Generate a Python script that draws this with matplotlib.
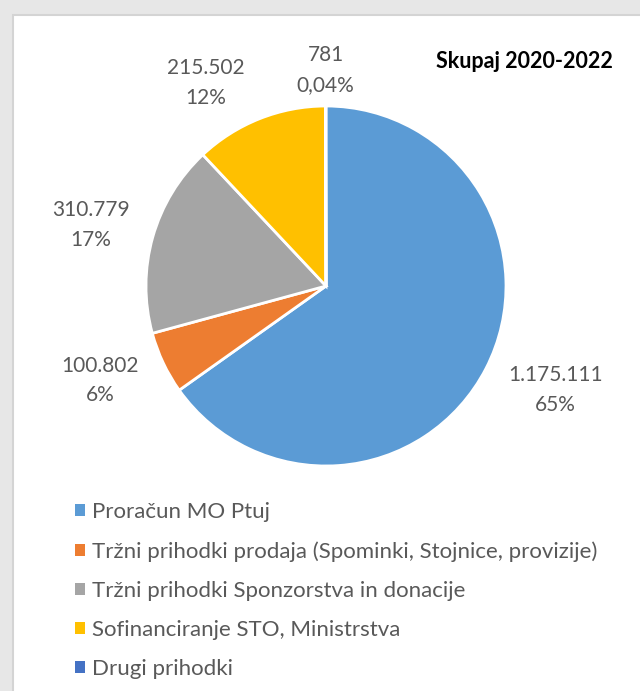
import matplotlib
matplotlib.use("Agg")
import matplotlib.pyplot as plt
from matplotlib.patches import Rectangle
import numpy as np

# ---- Data ----
categories = [
    "Proračun MO Ptuj",
    "Tržni prihodki prodaja (Spominki, Stojnice, provizije)",
    "Tržni prihodki Sponzorstva in donacije",
    "Sofinanciranje STO, Ministrstva",
    "Drugi prihodki",
]
values = [1175111, 100802, 310779, 215502, 781]
pct_labels = ["65%", "6%", "17%", "12%", "0,04%"]
colors = ["#5B9BD5", "#ED7D31", "#A5A5A5", "#FFC000", "#4472C4"]

# label placement (radius multiple, angle shift in degrees)
label_dist = [1.40, 1.36, 1.35, 1.31, 1.20]
label_shift = [3.0, -2.6, 1.3, 9.0, 0.0]

plt.rcParams["font.family"] = ["Lato", "DejaVu Sans"]

W, H = 640, 691
fig = plt.figure(figsize=(W / 100, H / 100), dpi=100)
fig.patch.set_facecolor("#E7E7E7")

# white chart panel
panel = Rectangle((13 / W, -0.05), 1.1, 1 - 15 / H + 0.05,
                  transform=fig.transFigure, facecolor="white",
                  edgecolor="#D4D4D4", linewidth=1.5, zorder=-5)
fig.patches.append(panel)

# pie axes: center (326, 286), radius 180 px
cx, cy, r = 326, 286, 180
ax = fig.add_axes([(cx - r) / W, (H - cy - r) / H, 2 * r / W, 2 * r / H])
ax.set_zorder(2)
ax.set_facecolor("none")
wedges, _ = ax.pie(values, colors=colors, startangle=90, counterclock=False,
                   radius=1, wedgeprops=dict(edgecolor="white", linewidth=2))
ax.set_xlim(-1, 1)
ax.set_ylim(-1, 1)
ax.set_aspect("equal")
ax.axis("off")

for w, v, p, d, s in zip(wedges, values, pct_labels, label_dist, label_shift):
    ang = np.deg2rad((w.theta1 + w.theta2) / 2 + s)
    txt = f"{v:,}".replace(",", ".") + "\n" + p
    ax.text(d * np.cos(ang), d * np.sin(ang), txt, ha="center", va="center",
            multialignment="center", fontsize=15, color="#595959",
            linespacing=1.6, clip_on=False)

fig.text(613 / W, 1 - 62 / H, "Skupaj 2020-2022", ha="right", va="center",
         fontsize=15.5, fontweight="bold", color="black", zorder=3)

leg = fig.legend(wedges, categories, loc="upper left",
                 bbox_to_anchor=(55 / W, 1 - 482 / H), frameon=False,
                 fontsize=16, labelcolor="#595959", handlelength=0.45,
                 handleheight=0.45, handletextpad=0.3, labelspacing=0.86)
leg.set_zorder(3)
for h in leg.legend_handles:
    h.set_edgecolor("none")

fig.savefig("out.png", dpi=100, facecolor=fig.get_facecolor())
